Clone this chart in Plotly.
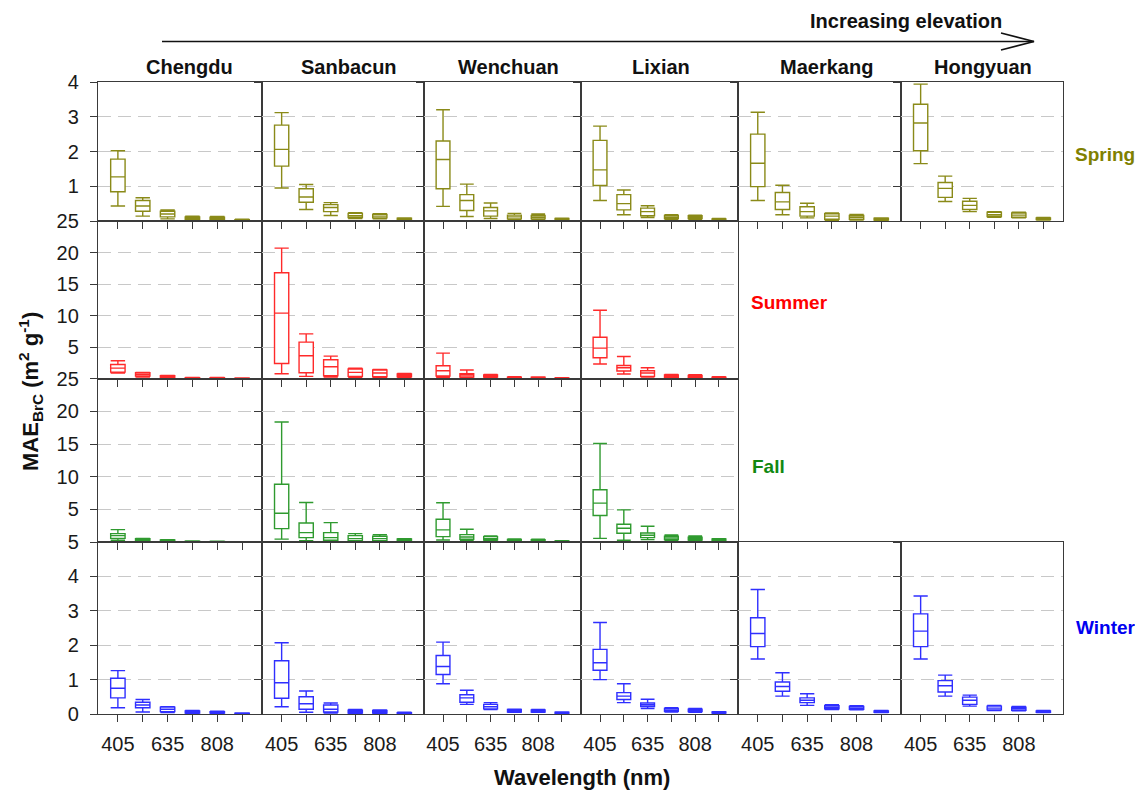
import plotly.graph_objects as go

# ---------------- data ----------------
SITES = ["Chengdu", "Sanbacun", "Wenchuan", "Lixian", "Maerkang", "Hongyuan"]
WAVELENGTHS = ["405", "532", "635", "780", "808", "980"]
TICK_TEXT = ["405", "", "635", "", "808", ""]
SEASONS = ["Spring", "Summer", "Fall", "Winter"]
SEASON_SITES = [6, 4, 4, 6]          # number of sites (columns) per season

# Spring: rows = sites, cols = wavelengths
spring_hi  = [[2.02, 0.67, 0.32, 0.14, 0.13, 0.05], [3.12, 1.05, 0.53, 0.24, 0.21, 0.09],
              [3.20, 1.06, 0.52, 0.22, 0.20, 0.08], [2.73, 0.89, 0.44, 0.18, 0.17, 0.07],
              [3.13, 1.03, 0.51, 0.23, 0.19, 0.09], [3.94, 1.29, 0.65, 0.27, 0.25, 0.10]]
spring_q3  = [[1.78, 0.59, 0.28, 0.12, 0.11, 0.04], [2.76, 0.93, 0.47, 0.22, 0.19, 0.08],
              [2.30, 0.76, 0.39, 0.17, 0.16, 0.07], [2.32, 0.76, 0.37, 0.16, 0.15, 0.06],
              [2.50, 0.82, 0.41, 0.21, 0.16, 0.08], [3.36, 1.11, 0.57, 0.25, 0.23, 0.09]]
spring_med = [[1.27, 0.43, 0.20, 0.08, 0.08, 0.03], [2.06, 0.69, 0.39, 0.15, 0.14, 0.05],
              [1.77, 0.59, 0.29, 0.12, 0.11, 0.05], [1.47, 0.50, 0.27, 0.11, 0.11, 0.04],
              [1.66, 0.55, 0.27, 0.14, 0.11, 0.05], [2.82, 0.94, 0.45, 0.18, 0.17, 0.07]]
spring_q1  = [[0.84, 0.28, 0.12, 0.05, 0.05, 0.02], [1.58, 0.54, 0.27, 0.10, 0.09, 0.03],
              [0.93, 0.30, 0.14, 0.06, 0.06, 0.03], [1.02, 0.32, 0.15, 0.07, 0.07, 0.03],
              [0.99, 0.33, 0.14, 0.05, 0.05, 0.03], [2.02, 0.68, 0.33, 0.13, 0.11, 0.04]]
spring_lo  = [[0.43, 0.14, 0.06, 0.03, 0.03, 0.01], [0.95, 0.33, 0.16, 0.07, 0.06, 0.02],
              [0.42, 0.13, 0.07, 0.03, 0.04, 0.02], [0.59, 0.18, 0.10, 0.05, 0.05, 0.02],
              [0.59, 0.18, 0.09, 0.02, 0.03, 0.02], [1.65, 0.56, 0.27, 0.11, 0.09, 0.03]]

summer_hi  = [[2.84, 1.00, 0.53, 0.20, 0.20, 0.10], [20.7, 7.10, 3.58, 1.68, 1.47, 0.84],
              [4.05, 1.37, 0.68, 0.30, 0.28, 0.15], [10.84, 3.53, 1.74, 0.68, 0.63, 0.30]]
summer_q3  = [[2.26, 0.95, 0.47, 0.17, 0.17, 0.08], [16.8, 5.80, 3.00, 1.53, 1.37, 0.74],
              [2.05, 0.79, 0.58, 0.25, 0.22, 0.12], [6.58, 2.10, 1.26, 0.58, 0.53, 0.25]]
summer_med = [[1.68, 0.68, 0.32, 0.12, 0.12, 0.06], [10.4, 3.63, 1.90, 1.00, 0.90, 0.53],
              [1.26, 0.58, 0.42, 0.18, 0.16, 0.09], [4.84, 1.74, 0.90, 0.42, 0.37, 0.18]]
summer_q1  = [[1.05, 0.42, 0.21, 0.08, 0.08, 0.04], [2.42, 0.95, 0.47, 0.37, 0.32, 0.32],
              [0.42, 0.26, 0.26, 0.12, 0.10, 0.06], [3.32, 1.21, 0.37, 0.21, 0.21, 0.10]]
summer_lo  = [[0.90, 0.26, 0.16, 0.05, 0.05, 0.02], [0.79, 0.37, 0.26, 0.21, 0.21, 0.21],
              [0.21, 0.16, 0.16, 0.08, 0.06, 0.04], [2.32, 0.74, 0.26, 0.16, 0.16, 0.06]]

fall_hi  = [[1.90, 0.56, 0.36, 0.15, 0.12, 0.06], [18.36, 6.05, 2.97, 1.28, 1.13, 0.51],
            [6.00, 1.95, 0.92, 0.45, 0.42, 0.20], [15.08, 4.92, 2.41, 1.08, 0.92, 0.50]]
fall_q3  = [[1.28, 0.51, 0.30, 0.12, 0.10, 0.05], [8.85, 2.92, 1.44, 0.97, 0.87, 0.46],
            [3.49, 1.13, 0.82, 0.40, 0.37, 0.17], [8.00, 2.72, 1.38, 0.87, 0.72, 0.45]]
fall_med = [[0.97, 0.36, 0.20, 0.09, 0.07, 0.04], [4.41, 1.44, 0.67, 0.51, 0.51, 0.31],
            [1.85, 0.77, 0.51, 0.30, 0.28, 0.12], [5.95, 2.10, 1.03, 0.62, 0.51, 0.32]]
fall_q1  = [[0.56, 0.20, 0.10, 0.06, 0.05, 0.03], [2.05, 0.67, 0.26, 0.20, 0.20, 0.15],
            [0.82, 0.41, 0.31, 0.20, 0.18, 0.08], [4.05, 1.33, 0.67, 0.36, 0.31, 0.20]]
fall_lo  = [[0.26, 0.10, 0.05, 0.03, 0.03, 0.02], [0.44, 0.20, 0.10, 0.10, 0.10, 0.10],
            [0.31, 0.20, 0.20, 0.12, 0.10, 0.05], [0.56, 0.26, 0.36, 0.26, 0.20, 0.12]]

winter_hi  = [[1.26, 0.42, 0.21, 0.10, 0.08, 0.03], [2.07, 0.67, 0.32, 0.13, 0.12, 0.05],
              [2.09, 0.69, 0.33, 0.14, 0.13, 0.06], [2.66, 0.88, 0.43, 0.18, 0.16, 0.07],
              [3.62, 1.20, 0.59, 0.27, 0.24, 0.10], [3.43, 1.13, 0.55, 0.25, 0.22, 0.10]]
winter_q3  = [[1.04, 0.34, 0.20, 0.09, 0.07, 0.025], [1.55, 0.50, 0.26, 0.11, 0.10, 0.04],
              [1.70, 0.56, 0.28, 0.13, 0.12, 0.05], [1.88, 0.62, 0.32, 0.16, 0.14, 0.06],
              [2.80, 0.93, 0.47, 0.24, 0.22, 0.09], [2.91, 0.97, 0.49, 0.23, 0.20, 0.09]]
winter_med = [[0.75, 0.26, 0.14, 0.06, 0.05, 0.02], [0.91, 0.30, 0.14, 0.07, 0.06, 0.03],
              [1.38, 0.47, 0.21, 0.10, 0.09, 0.04], [1.49, 0.52, 0.27, 0.11, 0.10, 0.05],
              [2.34, 0.80, 0.40, 0.19, 0.17, 0.07], [2.41, 0.82, 0.40, 0.17, 0.16, 0.07]]
winter_q1  = [[0.47, 0.18, 0.07, 0.03, 0.03, 0.01], [0.46, 0.14, 0.06, 0.03, 0.03, 0.015],
              [1.15, 0.34, 0.15, 0.06, 0.06, 0.02], [1.27, 0.42, 0.22, 0.08, 0.07, 0.03],
              [1.96, 0.66, 0.33, 0.15, 0.14, 0.05], [1.96, 0.64, 0.28, 0.12, 0.11, 0.05]]
winter_lo  = [[0.18, 0.06, 0.04, 0.02, 0.02, 0.005], [0.21, 0.05, 0.03, 0.02, 0.02, 0.01],
              [0.88, 0.28, 0.13, 0.05, 0.05, 0.01], [1.00, 0.33, 0.16, 0.06, 0.05, 0.02],
              [1.60, 0.52, 0.25, 0.13, 0.12, 0.04], [1.60, 0.52, 0.23, 0.10, 0.09, 0.04]]

STATS = {
    "Spring": (spring_lo, spring_q1, spring_med, spring_q3, spring_hi),
    "Summer": (summer_lo, summer_q1, summer_med, summer_q3, summer_hi),
    "Fall": (fall_lo, fall_q1, fall_med, fall_q3, fall_hi),
    "Winter": (winter_lo, winter_q1, winter_med, winter_q3, winter_hi),
}

Y_RANGES = {"Spring": [0, 4], "Summer": [0, 25], "Fall": [0, 25], "Winter": [0, 5]}
Y_TICKS = {"Spring": [1, 2, 3, 4], "Summer": [5, 10, 15, 20, 25],
           "Fall": [5, 10, 15, 20, 25], "Winter": [0, 1, 2, 3, 4, 5]}
BOX_COLORS = {"Spring": "#8a8a18", "Summer": "#ff2a2a", "Fall": "#2f9a2f", "Winter": "#2f2fff"}
TEXT_COLORS = {"Spring": "#808000", "Summer": "#ff0000", "Fall": "#118811", "Winter": "#0000f0"}

# ---------------- layout geometry ----------------
# Reference pixel coordinates; the page body adds an 8 px offset, which is compensated here.
OFF = 8
W, H = 1143 - OFF, 794 - OFF
COL_PX = [98, 262, 424, 581, 738, 901, 1063]
ROW_PX = [82, 221, 378.7, 542, 714]
ML, MT = COL_PX[0] - OFF, ROW_PX[0] - OFF
MR, MB = W - (COL_PX[-1] - OFF), H - (ROW_PX[-1] - OFF)
PW, PH = W - ML - MR, H - MT - MB


def xp(px):
    return (px - OFF - ML) / PW


def yp(py):
    return (H - MB - (py - OFF)) / PH


FONT = "Liberation Sans, Arial, sans-serif"
AXC = "#3a3a3a"

fig = go.Figure()
layout = {}
k = 0
for r, season in enumerate(SEASONS):
    lo, q1, med, q3, hi = STATS[season]
    for c in range(SEASON_SITES[r]):
        k += 1
        xa = "x" if k == 1 else f"x{k}"
        ya = "y" if k == 1 else f"y{k}"
        fig.add_trace(go.Box(
            x=WAVELENGTHS, q1=q1[c], median=med[c], q3=q3[c],
            lowerfence=lo[c], upperfence=hi[c],
            xaxis=xa, yaxis=ya, width=0.58, whiskerwidth=1,
            boxpoints=False, fillcolor="white",
            line=dict(color=BOX_COLORS[season], width=1.4),
            showlegend=False, name=f"{SITES[c]} {season}",
        ))
        layout["xaxis" if k == 1 else f"xaxis{k}"] = dict(
            domain=[xp(COL_PX[c]), xp(COL_PX[c + 1])], anchor=ya,
            type="category", categoryorder="array", categoryarray=WAVELENGTHS,
            range=[-0.8, 5.8], tickmode="array", tickvals=WAVELENGTHS, ticktext=TICK_TEXT,
            showticklabels=(r == 3), ticks="outside", ticklen=7, tickwidth=1.2, tickcolor=AXC,
            ticklabelstandoff=5,
            showline=True, mirror=True, linecolor=AXC, linewidth=1.3,
            showgrid=False, zeroline=False, fixedrange=True,
            tickfont=dict(family=FONT, size=20, color="#1a1a1a"),
        )
        layout["yaxis" if k == 1 else f"yaxis{k}"] = dict(
            domain=[yp(ROW_PX[r + 1]), yp(ROW_PX[r])], anchor=xa,
            range=Y_RANGES[season], tickmode="array", tickvals=Y_TICKS[season],
            showticklabels=(c == 0), ticks="outside", ticklen=7, tickwidth=1.2, tickcolor=AXC,
            ticklabelstandoff=7,
            showline=True, mirror=True, linecolor=AXC, linewidth=1.3,
            showgrid=True, gridcolor="#c8c8c8", gridwidth=1.4, griddash="13px,7px",
            zeroline=False, fixedrange=True,
            tickfont=dict(family=FONT, size=20, color="#1a1a1a"),
        )

annotations = []
TITLE_PX = [189, 349, 508, 661, 826, 983]
for name, px in zip(SITES, TITLE_PX):
    annotations.append(dict(x=xp(px), y=yp(67), xref="paper", yref="paper", text=f"<b>{name}</b>",
                            showarrow=False, xanchor="center", yanchor="middle",
                            font=dict(family=FONT, size=20, color="#111111")))

SEASON_LABEL_PX = {"Spring": (1073, 155), "Summer": (749, 302), "Fall": (750, 466), "Winter": (1074, 627)}
for s, (px, py) in SEASON_LABEL_PX.items():
    annotations.append(dict(x=xp(px), y=yp(py), xref="paper", yref="paper", text=f"<b>{s}</b>",
                            showarrow=False, xanchor="left", yanchor="middle",
                            font=dict(family=FONT, size=19, color=TEXT_COLORS[s])))

annotations.append(dict(x=xp(906), y=yp(21), xref="paper", yref="paper",
                        text="<b>Increasing elevation</b>", showarrow=False,
                        xanchor="center", yanchor="middle",
                        font=dict(family=FONT, size=20, color="#111111")))
annotations.append(dict(x=xp(582), y=yp(777), xref="paper", yref="paper",
                        text="<b>Wavelength (nm)</b>", showarrow=False,
                        xanchor="center", yanchor="middle",
                        font=dict(family=FONT, size=22, color="#111111")))
annotations.append(dict(x=xp(31), y=yp(392), xref="paper", yref="paper",
                        text="<b>MAE<sub>BrC</sub> (m<sup>2</sup> g<sup>-1</sup>)</b>",
                        showarrow=False, textangle=-90, xanchor="center", yanchor="middle",
                        font=dict(family=FONT, size=22, color="#111111")))

shapes = [
    dict(type="line", xref="paper", yref="paper", x0=xp(162), x1=xp(1034), y0=yp(41.5), y1=yp(41.5),
         line=dict(color="#111111", width=1.6)),
    dict(type="path", xref="paper", yref="paper",
         path=f"M {xp(1001)} {yp(33)} L {xp(1034)} {yp(41.5)} L {xp(1001)} {yp(50)}",
         line=dict(color="#111111", width=1.6)),
]

fig.update_layout(
    width=W, height=H, margin=dict(l=ML, r=MR, t=MT, b=MB, autoexpand=False),
    paper_bgcolor="white", plot_bgcolor="white",
    annotations=annotations, shapes=shapes, showlegend=False,
    font=dict(family=FONT, color="#111111"),
    **layout,
)

fig.write_html("out.html")
